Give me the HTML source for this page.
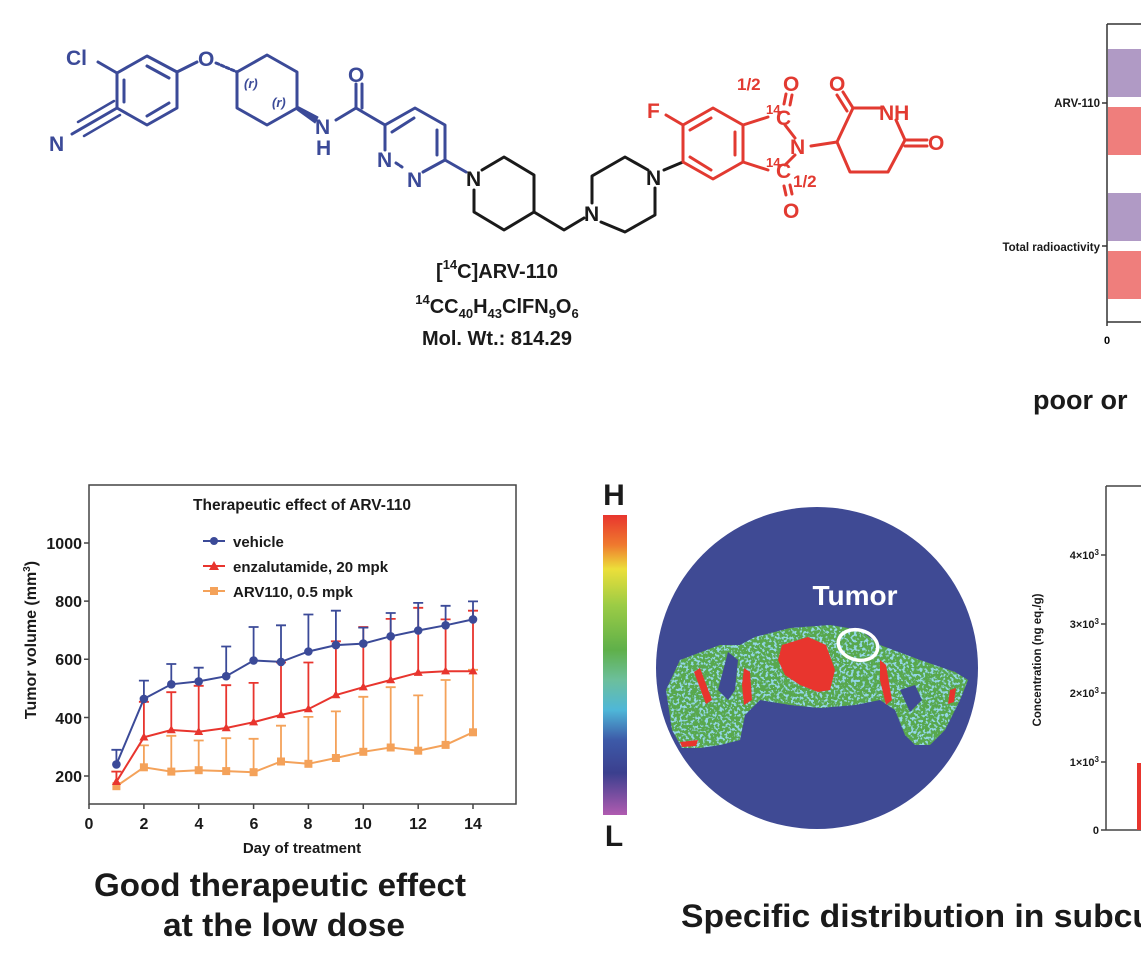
<!DOCTYPE html>
<html><head><meta charset="utf-8"><style>
html,body{margin:0;padding:0;background:#fff;}
svg{display:block;font-family:"Liberation Sans",Arial,sans-serif;}
</style></head><body>
<svg width="1141" height="956" viewBox="0 0 1141 956" xmlns="http://www.w3.org/2000/svg">
<defs>
<filter id="spk" x="0" y="0" width="100%" height="100%">
<feTurbulence type="fractalNoise" baseFrequency="0.35" numOctaves="2" seed="3" result="n"/>
<feColorMatrix in="n" type="matrix" values="0 0 0 0 0.30  0 0 0 0 0.68  0 0 0 0 0.78  0 0 0 -9 4.3" result="c"/>
<feComposite in="c" in2="SourceGraphic" operator="in" result="cc"/>
<feMerge><feMergeNode in="SourceGraphic"/><feMergeNode in="cc"/></feMerge>
</filter>
<linearGradient id="cbar" x1="0" y1="0" x2="0" y2="1">
<stop offset="0" stop-color="#e8352e"/><stop offset="0.1" stop-color="#ef7a2e"/>
<stop offset="0.18" stop-color="#ecdf3a"/><stop offset="0.3" stop-color="#9ccc45"/>
<stop offset="0.45" stop-color="#5fb04a"/><stop offset="0.55" stop-color="#6cbf9c"/>
<stop offset="0.65" stop-color="#4fb7d8"/><stop offset="0.75" stop-color="#3d5aa8"/>
<stop offset="0.86" stop-color="#3b3f8e"/><stop offset="1" stop-color="#b05bb0"/>
</linearGradient>
</defs>

<!-- ===== Molecule ===== -->
<g fill="none" stroke-width="3" stroke-linejoin="round" stroke-linecap="round">
<g stroke="#3b4a98">
<polygon points="147,56 177,72 177,108 147,125 117,108 117,73"/>
<line x1="124" y1="80" x2="124" y2="102"/><line x1="147" y1="66" x2="169" y2="78"/><line x1="147" y1="116" x2="169" y2="103"/>
<line x1="117" y1="73" x2="98" y2="62"/>
<line x1="177" y1="72" x2="197" y2="62"/>
<line x1="117" y1="108" x2="72" y2="134"/><line x1="114" y1="101" x2="78" y2="122" stroke-width="2.5"/><line x1="120" y1="115" x2="84" y2="136" stroke-width="2.5"/>
<polyline points="237,72 267,55 297,72 297,108 267,125 237,108 237,72"/>
<line x1="216" y1="63" x2="237" y2="72" stroke-dasharray="3 2.5"/>
<line x1="356" y1="108" x2="356" y2="84"/><line x1="362" y1="108" x2="362" y2="84"/>
<line x1="336" y1="120" x2="356" y2="108"/>
<polyline points="356,108 385,125"/>
<polyline points="385,125 415,108 445,125 445,160 423,172"/>
<line x1="385" y1="125" x2="385" y2="150"/>
<line x1="392" y1="132" x2="414" y2="118"/><line x1="437" y1="130" x2="437" y2="155"/>
<line x1="396" y1="163" x2="402" y2="167" stroke-dasharray="3 2"/>
<line x1="445" y1="160" x2="466" y2="172"/>
</g>
<polygon points="297,106 318,117 315,123 297,110" fill="#3b4a98" stroke="#3b4a98" stroke-width="1"/>
<g stroke="#1a1a1a">
<polyline points="482,170 504,157 534,175 534,212 504,230 474,212 474,190"/>
<polyline points="534,212 564,230 584,218"/>
<polyline points="592,203 592,176 625,157 648,170"/>
<polyline points="601,222 625,232 655,215 655,188"/>
<line x1="664" y1="170" x2="683" y2="162"/>
</g>
<g stroke="#e23a31">
<polygon points="683,162 683,125 713,108 743,125 743,162 713,179"/>
<line x1="690" y1="130" x2="711" y2="118"/><line x1="735" y1="132" x2="735" y2="155"/><line x1="690" y1="157" x2="711" y2="170"/>
<line x1="683" y1="125" x2="666" y2="115"/>
<line x1="743" y1="125" x2="768" y2="117"/><line x1="743" y1="162" x2="768" y2="170"/>
<line x1="785" y1="125" x2="795" y2="138"/><line x1="785" y1="165" x2="795" y2="155"/>
<line x1="784" y1="104" x2="786" y2="94"/><line x1="790" y1="105" x2="792" y2="95"/>
<line x1="784" y1="186" x2="786" y2="195"/><line x1="790" y1="185" x2="792" y2="194"/>
<line x1="811" y1="146" x2="837" y2="142"/>
<polyline points="837,142 853,108 880,108"/>
<line x1="853" y1="108" x2="843" y2="92"/><line x1="847" y1="111" x2="837" y2="95"/>
<polyline points="896,120 905,140 888,172 850,172 837,142"/>
<line x1="905" y1="140" x2="927" y2="140"/><line x1="905" y1="146" x2="927" y2="146"/>
</g>
</g>
<g font-weight="bold" font-size="21">
<g fill="#3b4a98">
<text x="66" y="65">Cl</text>
<text x="198" y="66">O</text>
<text x="49" y="151">N</text>
<text x="315" y="134">N</text><text x="316" y="155">H</text>
<text x="348" y="82">O</text>
<text x="377" y="167">N</text><text x="407" y="187">N</text>
<text x="244" y="88" font-size="13" font-style="italic">(r)</text>
<text x="272" y="107" font-size="13" font-style="italic">(r)</text>
</g>
<g fill="#1a1a1a"><text x="466" y="186">N</text><text x="584" y="221">N</text><text x="646" y="185">N</text></g>
<g fill="#e23a31">
<text x="647" y="118">F</text>
<text x="783" y="91">O</text><text x="783" y="218">O</text>
<text x="790" y="154">N</text>
<text x="829" y="91">O</text><text x="879" y="120">NH</text><text x="928" y="150">O</text>
<text x="766" y="123" font-size="13" dy="-9">14</text><text x="776" y="125">C</text>
<text x="766" y="176" font-size="13" dy="-9">14</text><text x="776" y="178">C</text>
<text x="737" y="90" font-size="17">1/2</text>
<text x="793" y="187" font-size="17">1/2</text>
</g>
</g>
<g font-weight="bold" font-size="20" fill="#1a1a1a" text-anchor="middle">
<text x="497" y="278">[<tspan font-size="13" dy="-9">14</tspan><tspan dy="9">C]ARV-110</tspan></text>
<text x="497" y="313"><tspan font-size="13" dy="-9">14</tspan><tspan dy="9">CC</tspan><tspan font-size="13" dy="5">40</tspan><tspan dy="-5">H</tspan><tspan font-size="13" dy="5">43</tspan><tspan dy="-5">ClFN</tspan><tspan font-size="13" dy="5">9</tspan><tspan dy="-5">O</tspan><tspan font-size="13" dy="5">6</tspan></text>
<text x="497" y="345">Mol. Wt.: 814.29</text>
</g>

<!-- ===== Top right bar chart ===== -->
<rect x="1108" y="49" width="40" height="48" fill="#b09ac5"/>
<rect x="1108" y="107" width="40" height="48" fill="#ef7e7c"/>
<rect x="1108" y="193" width="40" height="48" fill="#b09ac5"/>
<rect x="1108" y="251" width="40" height="48" fill="#ef7e7c"/>
<path d="M1107 24 H1141 M1107 24 V322 H1141 M1102 103 H1107 M1102 246 H1107 M1107 322 V326" stroke="#333" stroke-width="1.5" fill="none"/>
<g font-weight="bold" font-size="11.5" fill="#1a1a1a" text-anchor="end">
<text x="1100" y="107">ARV-110</text><text x="1100" y="251">Total radioactivity</text>
</g>
<text x="1107" y="344" font-weight="bold" font-size="11" text-anchor="middle">0</text>
<text x="1033" y="409" font-weight="bold" font-size="27" fill="#1a1a1a">poor or</text>

<!-- ===== Tumor volume chart ===== -->
<rect x="89" y="485" width="427" height="319" fill="none" stroke="#444" stroke-width="1.5"/>
<g stroke="#444" stroke-width="1.5">
<path d="M84 543H89M84 601.1H89M84 659.3H89M84 717.5H89M84 776H89"/>
<path d="M89 804v5M143.9 804v5M198.7 804v5M253.6 804v5M308.4 804v5M363.3 804v5M418.2 804v5M473 804v5"/>
</g>
<g font-weight="bold" font-size="15" fill="#1a1a1a">
<g text-anchor="end" font-size="16"><text x="82" y="549">1000</text><text x="82" y="607">800</text><text x="82" y="665">600</text><text x="82" y="724">400</text><text x="82" y="782">200</text></g>
<g text-anchor="middle" font-size="16"><text x="89" y="829">0</text><text x="144" y="829">2</text><text x="199" y="829">4</text><text x="254" y="829">6</text><text x="308" y="829">8</text><text x="363" y="829">10</text><text x="418" y="829">12</text><text x="473" y="829">14</text></g>
<text x="302" y="853" text-anchor="middle">Day of treatment</text>
<text transform="translate(36,640) rotate(-90)" text-anchor="middle" font-size="16">Tumor volume (mm<tspan font-size="10" dy="-6">3</tspan><tspan dy="6">)</tspan></text>
<text x="302" y="510" text-anchor="middle" font-size="15.5">Therapeutic effect of ARV-110</text>
<text x="233" y="547">vehicle</text><text x="233" y="572">enzalutamide, 20 mpk</text><text x="233" y="597">ARV110, 0.5 mpk</text>
</g>
<g stroke-width="2" fill="none">
<line x1="203" y1="541" x2="225" y2="541" stroke="#3b4a98"/><circle cx="214" cy="541" r="4" fill="#3b4a98" stroke="none"/>
<line x1="203" y1="566" x2="225" y2="566" stroke="#e8352e"/><polygon points="214,561 219,570 209,570" fill="#e8352e" stroke="none"/>
<line x1="203" y1="591" x2="225" y2="591" stroke="#f4a25a"/><rect x="210" y="587" width="8" height="8" fill="#f4a25a" stroke="none"/>
</g>
<!-- error bars -->
<path stroke="#f4a25a" stroke-width="1.8" fill="none" d="M116.4 786.2V771.6M111.4 771.6H121.4M143.9 767.3V745.4M138.9 745.4H148.9M171.3 771.6V735.8M166.3 735.8H176.3M198.7 770.2V740.5M193.7 740.5H203.7M226.2 771.1V738.2M221.2 738.2H231.2M253.6 772.2V738.8M248.6 738.8H258.6M281 761.5V725.7M276 725.7H286M308.4 763.8V716.9M303.4 716.9H313.4M335.9 758V711.4M330.9 711.4H340.9M363.3 751.8V696.8M358.3 696.8H368.3M390.7 747.5V687.2M385.7 687.2H395.7M418.2 750.7V695.4M413.2 695.4H423.2M445.6 744.9V680M440.6 680H450.6M473 732.3V669.8M468 669.8H478"/>
<path stroke="#e8352e" stroke-width="1.8" fill="none" d="M116.4 781.8V771.6M111.4 771.6H121.4M143.9 737.3V701.8M138.9 701.8H148.9M171.3 730V692.2M166.3 692.2H176.3M198.7 731.8V685.8M193.7 685.8H203.7M226.2 728V685.2M221.2 685.2H231.2M253.6 722.2V682.9M248.6 682.9H258.6M281 714.9V662.5M276 662.5H286M308.4 709.1V662.5M303.4 662.5H313.4M335.9 695.1V641.3M330.9 641.3H340.9M363.3 687.2V627M358.3 627H368.3M390.7 680V618.9M385.7 618.9H395.7M418.2 672.7V607.8M413.2 607.8H423.2M445.6 671.2V619.4M440.6 619.4H450.6M473 671.2V610.7M468 610.7H478"/>
<path stroke="#3b4a98" stroke-width="1.8" fill="none" d="M116.4 764.4V749.8M111.4 749.8H121.4M143.9 698.9V680.6M138.9 680.6H148.9M171.3 684.3V664M166.3 664H176.3M198.7 681.4V667.7M193.7 667.7H203.7M226.2 676.2V646.5M221.2 646.5H231.2M253.6 660.5V627M248.6 627H258.6M281 661.9V625.3M276 625.3H286M308.4 651.5V614.5M303.4 614.5H313.4M335.9 645.1V610.7M330.9 610.7H340.9M363.3 643.6V627.6M358.3 627.6H368.3M390.7 636.3V613M385.7 613H395.7M418.2 630.5V602.9M413.2 602.9H423.2M445.6 625.3V605.8M440.6 605.8H450.6M473 619.4V601.4M468 601.4H478"/>
<polyline fill="none" stroke="#f4a25a" stroke-width="2" points="116.4,786.2 143.9,767.3 171.3,771.6 198.7,770.2 226.2,771.1 253.6,772.2 281,761.5 308.4,763.8 335.9,758 363.3,751.8 390.7,747.5 418.2,750.7 445.6,744.9 473,732.3"/>
<polyline fill="none" stroke="#e8352e" stroke-width="2" points="116.4,781.8 143.9,737.3 171.3,730 198.7,731.8 226.2,728 253.6,722.2 281,714.9 308.4,709.1 335.9,695.1 363.3,687.2 390.7,680 418.2,672.7 445.6,671.2 473,671.2"/>
<polyline fill="none" stroke="#3b4a98" stroke-width="2" points="116.4,764.4 143.9,698.9 171.3,684.3 198.7,681.4 226.2,676.2 253.6,660.5 281,661.9 308.4,651.5 335.9,645.1 363.3,643.6 390.7,636.3 418.2,630.5 445.6,625.3 473,619.4"/>
<g fill="#f4a25a">
<rect x="112.4" y="782.2" width="8" height="8"/><rect x="139.9" y="763.3" width="8" height="8"/><rect x="167.3" y="767.6" width="8" height="8"/><rect x="194.7" y="766.2" width="8" height="8"/><rect x="222.2" y="767.1" width="8" height="8"/><rect x="249.6" y="768.2" width="8" height="8"/><rect x="277" y="757.5" width="8" height="8"/><rect x="304.4" y="759.8" width="8" height="8"/><rect x="331.9" y="754" width="8" height="8"/><rect x="359.3" y="747.8" width="8" height="8"/><rect x="386.7" y="743.5" width="8" height="8"/><rect x="414.2" y="746.7" width="8" height="8"/><rect x="441.6" y="740.9" width="8" height="8"/><rect x="469" y="728.3" width="8" height="8"/>
</g>
<g fill="#e8352e">
<polygon points="116.4,777 120.9,785 111.9,785"/><polygon points="143.9,732.5 148.4,740.5 139.4,740.5"/><polygon points="171.3,725.2 175.8,733.2 166.8,733.2"/><polygon points="198.7,727 203.2,735 194.2,735"/><polygon points="226.2,723.2 230.7,731.2 221.7,731.2"/><polygon points="253.6,717.4 258.1,725.4 249.1,725.4"/><polygon points="281,710.1 285.5,718.1 276.5,718.1"/><polygon points="308.4,704.3 312.9,712.3 303.9,712.3"/><polygon points="335.9,690.3 340.4,698.3 331.4,698.3"/><polygon points="363.3,682.4 367.8,690.4 358.8,690.4"/><polygon points="390.7,675.2 395.2,683.2 386.2,683.2"/><polygon points="418.2,667.9 422.7,675.9 413.7,675.9"/><polygon points="445.6,666.4 450.1,674.4 441.1,674.4"/><polygon points="473,666.4 477.5,674.4 468.5,674.4"/>
</g>
<g fill="#3b4a98">
<circle cx="116.4" cy="764.4" r="4.3"/><circle cx="143.9" cy="698.9" r="4.3"/><circle cx="171.3" cy="684.3" r="4.3"/><circle cx="198.7" cy="681.4" r="4.3"/><circle cx="226.2" cy="676.2" r="4.3"/><circle cx="253.6" cy="660.5" r="4.3"/><circle cx="281" cy="661.9" r="4.3"/><circle cx="308.4" cy="651.5" r="4.3"/><circle cx="335.9" cy="645.1" r="4.3"/><circle cx="363.3" cy="643.6" r="4.3"/><circle cx="390.7" cy="636.3" r="4.3"/><circle cx="418.2" cy="630.5" r="4.3"/><circle cx="445.6" cy="625.3" r="4.3"/><circle cx="473" cy="619.4" r="4.3"/>
</g>
<g font-weight="bold" font-size="32" fill="#1a1a1a" text-anchor="middle">
<text x="280" y="896" textLength="372" lengthAdjust="spacingAndGlyphs">Good therapeutic effect</text>
<text x="284" y="936" textLength="242" lengthAdjust="spacingAndGlyphs">at the low dose</text>
</g>

<!-- ===== Heatmap ===== -->
<rect x="603" y="515" width="24" height="300" fill="url(#cbar)"/>
<text x="614" y="505" font-weight="bold" font-size="30" text-anchor="middle" fill="#1a1a1a">H</text>
<text x="614" y="846" font-weight="bold" font-size="30" text-anchor="middle" fill="#1a1a1a">L</text>
<circle cx="817" cy="668" r="161" fill="#3f4a94"/>
<path filter="url(#spk)" fill="#58a84e" d="M666,690 L680,660 L720,645 L740,645 L755,637 L790,628 L830,625 L860,630 L880,645 L920,660 L955,672 L968,680 L960,700 L945,730 L930,745 L915,745 L905,735 L895,710 L880,700 L855,705 L820,708 L790,705 L760,700 L745,715 L740,740 L720,745 L700,748 L682,748 L672,730 Z"/>
<path fill="#3f4a94" d="M728,652 L738,660 L735,690 L728,700 L718,690 Z M900,690 L915,685 L922,700 L910,712 Z"/>
<polygon fill="#e8352e" points="782,645 808,637 826,645 835,670 830,690 818,692 800,685 785,675 778,660"/>
<path fill="#e8352e" d="M744,668 L750,672 L752,700 L744,705 L742,685 Z M880,660 L886,665 L892,700 L886,705 L880,680 Z M680,742 L698,740 L696,746 L682,747 Z M694,672 L700,668 L712,700 L706,704 Z M950,690 L956,688 L954,702 L948,704 Z"/>
<ellipse cx="858" cy="645" rx="20" ry="15" transform="rotate(15 858 645)" fill="none" stroke="#fff" stroke-width="3.5"/>
<text x="855" y="605" font-weight="bold" font-size="28" fill="#fff" text-anchor="middle">Tumor</text>
<text x="681" y="927" font-weight="bold" font-size="32" fill="#1a1a1a" textLength="472" lengthAdjust="spacingAndGlyphs">Specific distribution in subcu</text>

<!-- ===== Bottom right chart ===== -->
<path d="M1106 486 H1141 M1106 486 V830 H1141 M1101 555H1106 M1101 624H1106 M1101 693H1106 M1101 762H1106 M1101 830H1106" stroke="#444" stroke-width="1.5" fill="none"/>
<rect x="1137" y="763" width="6" height="67" fill="#e8352e"/>
<g font-weight="bold" font-size="11" fill="#1a1a1a" text-anchor="end">
<text x="1099" y="559">4×10<tspan font-size="8" dy="-4">3</tspan></text>
<text x="1099" y="628">3×10<tspan font-size="8" dy="-4">3</tspan></text>
<text x="1099" y="697">2×10<tspan font-size="8" dy="-4">3</tspan></text>
<text x="1099" y="766">1×10<tspan font-size="8" dy="-4">3</tspan></text>
<text x="1099" y="834">0</text>
</g>
<text transform="translate(1041,660) rotate(-90)" font-weight="bold" font-size="11.5" text-anchor="middle" fill="#1a1a1a">Concentration (ng eq./g)</text>
</svg>
</body></html>
